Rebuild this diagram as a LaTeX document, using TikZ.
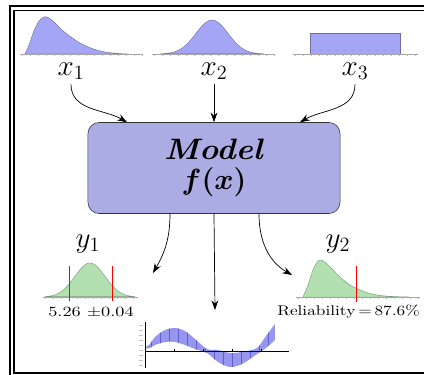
\documentclass[tikz,border=0pt]{standalone}
\usepackage{bm}
\usepackage{graphicx}
\usetikzlibrary{arrows.meta,calc}

\definecolor{pdfblue}{RGB}{165,165,245}
\definecolor{pdfedge}{RGB}{110,110,160}
\definecolor{pdfgreen}{RGB}{178,224,176}
\definecolor{greenedge}{RGB}{120,150,120}
\definecolor{modelfill}{RGB}{172,172,228}
\definecolor{bandfill}{RGB}{150,150,238}
\definecolor{bandbar}{RGB}{95,95,205}

% wide set text for the result labels
\newcommand{\widetext}[2][1.3]{\scalebox{#1}[1]{#2}}

\tikzset{
  pdfcurve/.style={fill=pdfblue, draw=pdfedge, line width=0.3pt},
  outcurve/.style={fill=pdfgreen, draw=greenedge, line width=0.3pt},
  baseaxis/.style={draw=gray!70, line width=0.4pt},
  basetick/.style={draw=gray!60, line width=0.3pt},
  varlabel/.style={font=\fontsize{20}{24}\selectfont},
  flow/.style={-{Stealth[length=2.4mm,width=1.7mm]}, line width=0.5pt},
  modelbox/.style={draw=black!80, fill=modelfill, rounded corners=0.28cm,
    minimum width=6.3cm, minimum height=2.275cm, align=center,
    font=\fontsize{21}{21.5}\selectfont},
  limit/.style={draw=red, line width=0.6pt},
  numlabel/.style={font=\fontsize{10}{12}\selectfont},
}

% error band of the swept output
\def\bandpath{plot[smooth] coordinates {(145,347.5) (150,344) (155,337) (165,330) (175,328) (185,331) (195,339) (207,349) (218,350) (230,353) (242,352) (257,348) (266,336) (275,324)}
  -- plot[smooth] coordinates {(275,340) (266,348) (257,354) (242,364) (230,367) (218,362) (207,353) (195,349) (185,345) (175,342) (165,342) (155,345) (150,348) (145,348.5)} -- cycle}

\begin{document}
\begin{tikzpicture}[x=0.025cm, y=-0.025cm]
  \clip (0,0) rectangle (424,375);
  \fill[white] (0,0) rectangle (424,375);

  % double frame
  \draw[line width=1pt] (10,6) rectangle (440,380);
  \draw[line width=1.2pt] (14,10.5) rectangle (436,373);

  % input distributions
  \draw[pdfcurve] plot[smooth] coordinates {(25,54) (29,45) (34,31) (39,21) (44,17) (48,17.5) (54,22) (62,30) (71,37) (80,43) (92,48.5) (105,52) (118,53.5) (128,54)} -- cycle;
  \draw[pdfcurve] plot[domain=160:264, samples=60] (\x,{54-34*exp(-0.5*((\x-212)/16)^2)}) -- cycle;
  \draw[pdfcurve] (310,33) rectangle (400,54);

  \draw[baseaxis] (20,54) -- (143,54);
  \draw[baseaxis] (152,54) -- (275,54);
  \draw[baseaxis] (293,54) -- (418,54);
  \foreach \t in {22,30,...,142} \draw[basetick] (\t,54) -- (\t,56);
  \foreach \t in {154,162,...,274} \draw[basetick] (\t,54) -- (\t,56);
  \foreach \t in {295,303,...,417} \draw[basetick] (\t,54) -- (\t,56);

  \node[varlabel] (lx1) at (71,71) {$x_1$};
  \node[varlabel] (lx2) at (214,71) {$x_2$};
  \node[varlabel] (lx3) at (355,71) {$x_3$};

  % model block
  \node[modelbox] (model) at (214,168) {\widetext[1.1]{\textbf{\textit{Model}}}\\$\bm{f(x)}$};

  \draw[flow] (lx1.south) to[out=-90, in=150] ($(model.north)+(-87,0)$);
  \draw[flow] (lx2.south) -- (model.north);
  \draw[flow] (lx3.south) to[out=-90, in=30] ($(model.north)+(86,0)$);

  % outputs
  \coordinate (y1in) at (153,273);
  \coordinate (y2in) at (292,275);
  \coordinate (sweepin) at (215,310);
  \draw[flow] ($(model.south)+(-44,0)$) to[out=-90, in=60] (y1in);
  \draw[flow] (model.south) -- (sweepin);
  \draw[flow] ($(model.south)+(45,0)$) to[out=-90, in=150] (y2in);

  \node[varlabel] (ly1) at (88,244) {$y_1$};
  \node[varlabel] (ly2) at (338,244) {$y_2$};

  \draw[outcurve] plot[domain=45:135, samples=60] (\x,{297-34*exp(-0.5*((\x-90)/15)^2)}) -- cycle;
  \draw[outcurve] plot[smooth] coordinates {(303,297) (308,285) (313,270) (318,261) (321,260) (326,263) (333,270) (341,278) (350,285) (358,289) (368,293) (380,295.5) (395,296.6) (410,297)} -- cycle;
  \draw[baseaxis] (43,297) -- (138,297);
  \draw[baseaxis] (296,297) -- (420,297);
  \foreach \t in {45,53,...,137} \draw[basetick] (\t,297) -- (\t,299);
  \foreach \t in {298,306,...,419} \draw[basetick] (\t,297) -- (\t,299);
  \draw[limit] (69,266) -- (69,301);
  \draw[limit] (112,266) -- (112,301);
  \draw[limit] (356,266) -- (356,302);

  \node[numlabel] (mean) at (91,312) {\widetext{5.26 $\pm$0.04}};
  \node[numlabel, anchor=west, inner sep=0pt] (rel) at (277,312) {\widetext[1.23]{Reliability$\,=\,$87.6\%}};

  % swept output with error bars
  \fill[bandfill] \bandpath;
  \begin{scope}
    \clip \bandpath;
    \foreach \x in {151,160,...,276} \draw[bandbar, line width=0.6pt] (\x,320) -- (\x,370);
  \end{scope}
  \draw[line width=0.4pt] (145,322) -- (145,368);
  \draw[line width=0.4pt] (145,351) -- (289,351);
  \foreach \t in {174,203,232,261} \draw[line width=0.3pt] (\t,351) -- (\t,349);
  \foreach \t in {325,330,...,366} \draw[gray!45, line width=0.3pt] (139,\t) -- (143,\t);
\end{tikzpicture}
\end{document}
